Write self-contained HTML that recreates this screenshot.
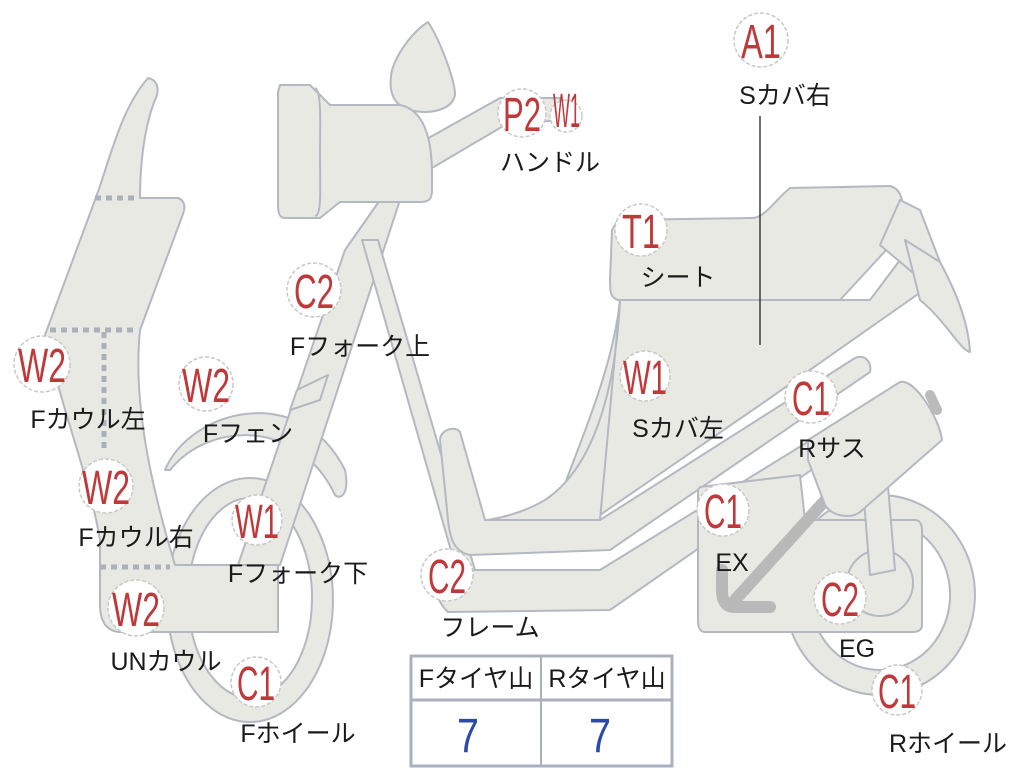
<!DOCTYPE html>
<html><head><meta charset="utf-8"><style>
html,body{margin:0;padding:0;background:#fff;}
svg{display:block}
.s{fill:#e9e9e4;stroke:#b4b8c2;stroke-width:2;stroke-linejoin:round}
.lb{font-family:"Liberation Sans","Noto Sans CJK JP",sans-serif;font-size:25px;fill:#1a1a1a}
.bt{font-family:"Liberation Sans","Noto Sans CJK JP",sans-serif;font-size:48px;fill:#c0393a}
.bc{fill:#fff;stroke:#c8c8c8;stroke-width:1.5;stroke-dasharray:4 2}
</style></head><body>
<svg width="1024" height="768" viewBox="0 0 1024 768">
<path class="s" fill-rule="evenodd" d="M880,495 a95,100 0 1 1 -0.1,0 Z M880,520 a70,75 0 1 0 0.1,0 Z"/>
<path class="s" d="M165,470 C190,410 300,380 345,470 C350,495 340,500 335,495 C300,420 210,420 170,470 Z"/>
<path class="s" fill-rule="evenodd" d="M250,478 a83,122 0 1 1 -0.1,0 Z M250,498 a62,100 0 1 0 0.1,0 Z"/>
<path class="s" d="M238,565 L345,250 L380,200 L400,200 L280,565 Z"/>
<path class="s" d="M297,390 L328,375 L320,400 L290,410 Z"/>
<path class="s" d="M362,240 L378,240 L475,570 L458,575 Z"/>
<path class="s" d="M45,335 L95,200 C110,160 120,110 148,78 C158,80 160,90 155,100 C143,130 140,170 140,198 L178,198 C184,200 186,206 183,214 L140,330 C135,380 140,450 175,565 L278,565 L278,632 L118,632 C105,630 100,620 100,605 L100,540 C90,480 65,420 45,335 Z"/>
<path d="M95,198 H138 M50,330 H138 M104,332 V450 M100,567 H170" stroke="#aab0bc" stroke-width="5" stroke-dasharray="6 5" fill="none"/>
<path class="s" d="M428,22 C440,40 455,80 455,95 C452,110 430,115 410,110 C392,105 388,90 392,70 C398,50 415,30 428,22 Z"/>
<path class="s" d="M425,140 L500,98 L560,98 L560,120 L505,125 L432,168 Z"/>
<path class="s" d="M280,85 L310,85 L330,105 L400,105 C425,110 432,140 432,175 L432,190 C432,200 428,202 420,202 L340,202 L320,218 L285,218 C279,218 278,212 278,205 L278,92 Z"/>
<path d="M315,88 C322,90 320,130 320,150 C320,190 322,215 315,216" stroke="#b4b8c2" stroke-width="2" fill="none"/>
<path class="s" d="M440,440 C440,430 455,425 460,432 L485,520 L600,520 L855,358 C865,354 872,362 870,372 L610,550 L470,555 C455,552 450,540 448,520 Z"/>
<path class="s" d="M618,300 L870,300 L900,260 L940,262 L938,280 L760,405 L600,515 L560,520 C540,520 610,400 620,300 Z"/>
<path class="s" d="M620,300 C615,400 590,470 545,500 C520,515 490,520 485,520 L600,520 Z"/>
<path class="s" d="M618,220 L752,218 C765,218 775,200 790,188 L890,186 C905,190 905,210 900,235 L840,300 L618,300 C610,298 610,290 610,280 L612,230 Z"/>
<path class="s" d="M900,200 L920,210 L940,262 L912,272 L880,245 Z"/>
<path class="s" d="M905,240 L940,262 C955,290 968,320 970,352 C960,350 945,320 920,300 Z"/>
<path class="s" d="M440,570 L600,570 L900,385 C912,380 918,390 912,400 L610,610 L448,612 C435,600 432,580 440,570 Z"/>
<path class="s" d="M700,487 L800,475 L805,520 L915,520 C920,520 922,525 922,530 L922,625 C922,630 918,632 912,632 L705,632 C700,632 698,628 698,620 L698,490 Z"/>
<circle class="s" cx="880" cy="583" r="33"/>
<path class="s" d="M860,450 L885,450 L895,570 L870,575 Z"/>
<path d="M770,607 H735 C725,607 722,600 722,590 L722,570 M735,600 L830,495" stroke="#b9b9b9" stroke-width="12" fill="none" stroke-linecap="round"/>
<path class="s" d="M808,440 L900,382 C915,378 940,420 942,440 L860,512 C850,520 830,515 825,505 L808,460 Z"/>
<line x1="930" y1="395" x2="937" y2="410" stroke="#bbb" stroke-width="10" stroke-linecap="round"/>
<line x1="760" y1="116" x2="760" y2="345" stroke="#222" stroke-width="1.3"/>
<rect x="411" y="656" width="261" height="110" fill="#fff" stroke="#aab0c0" stroke-width="3"/>
<line x1="411" y1="700" x2="672" y2="700" stroke="#aab0c0" stroke-width="3"/>
<line x1="541" y1="656" x2="541" y2="766" stroke="#aab0c0" stroke-width="2"/>
<text class="lb" x="476" y="687" text-anchor="middle">Fタイヤ山</text>
<text class="lb" x="607" y="687" text-anchor="middle">Rタイヤ山</text>
<text x="468" y="752" text-anchor="middle" font-family="Liberation Sans,sans-serif" font-size="48" fill="#2a4aa8" textLength="22" lengthAdjust="spacingAndGlyphs">7</text>
<text x="600" y="752" text-anchor="middle" font-family="Liberation Sans,sans-serif" font-size="48" fill="#2a4aa8" textLength="22" lengthAdjust="spacingAndGlyphs">7</text>
<g>
<circle class="bc" cx="761" cy="40" r="27"/><text class="bt" x="741" y="58" textLength="40" lengthAdjust="spacingAndGlyphs">A1</text>
<circle class="bc" cx="522" cy="113" r="24"/><text class="bt" x="503" y="131" textLength="38" lengthAdjust="spacingAndGlyphs">P2</text>
<circle class="bc" cx="566" cy="116" r="16"/><text class="bt" x="553" y="127" font-size="28" textLength="27" lengthAdjust="spacingAndGlyphs">W1</text>
<circle class="bc" cx="641" cy="230" r="26"/><text class="bt" x="622" y="248" textLength="38" lengthAdjust="spacingAndGlyphs">T1</text>
<circle class="bc" cx="314" cy="290" r="27"/><text class="bt" x="294" y="308" textLength="40" lengthAdjust="spacingAndGlyphs">C2</text>
<circle class="bc" cx="42" cy="364" r="28"/><text class="bt" x="18" y="382" textLength="48" lengthAdjust="spacingAndGlyphs">W2</text>
<circle class="bc" cx="206" cy="384" r="27"/><text class="bt" x="182" y="402" textLength="48" lengthAdjust="spacingAndGlyphs">W2</text>
<circle class="bc" cx="645" cy="376" r="25"/><text class="bt" x="623" y="394" textLength="44" lengthAdjust="spacingAndGlyphs">W1</text>
<circle class="bc" cx="811" cy="397" r="26"/><text class="bt" x="792" y="415" textLength="38" lengthAdjust="spacingAndGlyphs">C1</text>
<circle class="bc" cx="106" cy="486" r="27"/><text class="bt" x="82" y="504" textLength="48" lengthAdjust="spacingAndGlyphs">W2</text>
<circle class="bc" cx="257" cy="520" r="25"/><text class="bt" x="235" y="538" textLength="44" lengthAdjust="spacingAndGlyphs">W1</text>
<circle class="bc" cx="723" cy="510" r="26"/><text class="bt" x="704" y="528" textLength="38" lengthAdjust="spacingAndGlyphs">C1</text>
<circle class="bc" cx="447" cy="575" r="26"/><text class="bt" x="428" y="593" textLength="38" lengthAdjust="spacingAndGlyphs">C2</text>
<circle class="bc" cx="840" cy="598" r="26"/><text class="bt" x="821" y="616" textLength="38" lengthAdjust="spacingAndGlyphs">C2</text>
<circle class="bc" cx="136" cy="608" r="28"/><text class="bt" x="112" y="626" textLength="48" lengthAdjust="spacingAndGlyphs">W2</text>
<circle class="bc" cx="256" cy="682" r="25"/><text class="bt" x="237" y="700" textLength="38" lengthAdjust="spacingAndGlyphs">C1</text>
<circle class="bc" cx="897" cy="690" r="25"/><text class="bt" x="878" y="708" textLength="38" lengthAdjust="spacingAndGlyphs">C1</text>
</g>
<text class="lb" x="785" y="104" text-anchor="middle">Sカバ右</text>
<text class="lb" x="550" y="171" text-anchor="middle">ハンドル</text>
<text class="lb" x="678" y="286" text-anchor="middle">シート</text>
<text class="lb" x="360" y="355" text-anchor="middle">Fフォーク上</text>
<text class="lb" x="88" y="428" text-anchor="middle">Fカウル左</text>
<text class="lb" x="248" y="442" text-anchor="middle">Fフェン</text>
<text class="lb" x="678" y="437" text-anchor="middle">Sカバ左</text>
<text class="lb" x="832" y="457" text-anchor="middle">Rサス</text>
<text class="lb" x="136" y="546" text-anchor="middle">Fカウル右</text>
<text class="lb" x="298" y="582" text-anchor="middle">Fフォーク下</text>
<text class="lb" x="732" y="571" text-anchor="middle">EX</text>
<text class="lb" x="490" y="636" text-anchor="middle">フレーム</text>
<text class="lb" x="857" y="657" text-anchor="middle">EG</text>
<text class="lb" x="166" y="670" text-anchor="middle">UNカウル</text>
<text class="lb" x="298" y="742" text-anchor="middle">Fホイール</text>
<text class="lb" x="948" y="752" text-anchor="middle">Rホイール</text>
</svg>
</body></html>
